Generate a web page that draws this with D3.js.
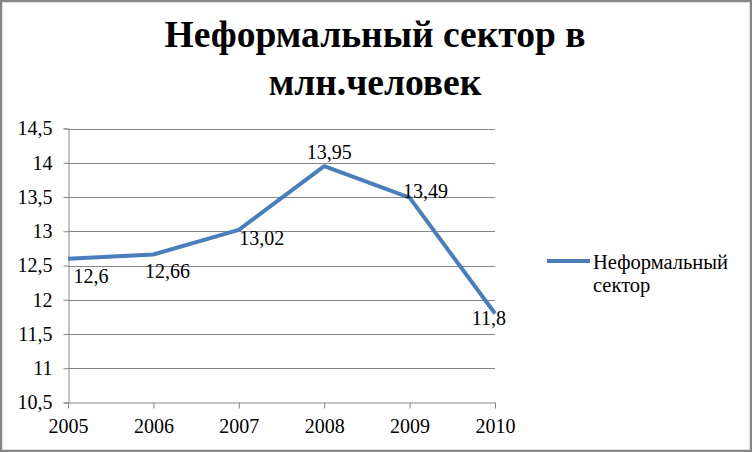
<!DOCTYPE html>
<html>
<head>
<meta charset="utf-8">
<script src="https://cdn.jsdelivr.net/npm/d3@7"></script>
<style>
  html, body { margin: 0; padding: 0; background: #fff; }
  svg { display: block; }
</style>
</head>
<body>
<div id="chart"></div>
<script>
var years = ["2005", "2006", "2007", "2008", "2009", "2010"];
var values = [12.6, 12.66, 13.02, 13.95, 13.49, 11.8];
var yTicks = [10.5, 11, 11.5, 12, 12.5, 13, 13.5, 14, 14.5];
var titleLines = ["Неформальный сектор в", "млн.человек"];
var seriesName = ["Неформальный", "сектор"];

// hand-placed label nudges (px from point, to baseline), like the original
var labelNudge = [[23, 24], [14, 23], [23, 15], [5, -7], [16, 0], [-6, 12]];

(function () {
  var W = 752, H = 452;
  var plotLeft = 68, plotRight = 495, plotTop = 128.5, plotBottom = 402.5;
  var lineColor = "#4a7ebb", gridColor = "#868686";
  var serif = "'Liberation Serif', 'Times New Roman', serif";

  var fmt = function (v) { return String(v).replace(".", ","); };

  var svg = d3.select("#chart").append("svg")
    .attr("width", W)
    .attr("height", H);

  svg.append("rect")
    .attr("x", 1).attr("y", 1)
    .attr("width", W - 2).attr("height", H - 2)
    .attr("fill", "#fff")
    .attr("stroke", gridColor)
    .attr("stroke-width", 2.5);

  var title = svg.append("text")
    .style("font-family", serif)
    .attr("text-anchor", "middle")
    .attr("font-size", 37.5)
    .attr("font-weight", "bold")
    .attr("fill", "#000");
  titleLines.forEach(function (line, i) {
    title.append("tspan").attr("x", 375).attr("y", 47 + i * 48).text(line);
  });

  var x = d3.scalePoint().domain(years).range([plotLeft, plotRight]);
  var y = d3.scaleLinear().domain([10.5, 14.5]).range([plotBottom, plotTop]);

  // horizontal gridlines
  svg.append("g")
    .selectAll("line")
    .data(yTicks.slice(1))
    .join("line")
    .attr("x1", plotLeft).attr("x2", plotRight)
    .attr("y1", function (d) { return Math.round(y(d)) + 0.5; })
    .attr("y2", function (d) { return Math.round(y(d)) + 0.5; })
    .attr("stroke", gridColor)
    .attr("stroke-width", 1);

  var yAxis = svg.append("g")
    .attr("transform", "translate(" + (plotLeft + 0.5) + ",0)")
    .call(d3.axisLeft(y).tickValues(yTicks).tickSize(5).tickPadding(11).tickFormat(fmt));

  var xAxis = svg.append("g")
    .attr("transform", "translate(0," + plotBottom + ")")
    .call(d3.axisBottom(x).tickSize(6).tickPadding(10).tickSizeOuter(0));

  [yAxis, xAxis].forEach(function (g) {
    g.attr("font-size", 20);
    g.select(".domain").attr("stroke", gridColor);
    g.selectAll(".tick line").attr("stroke", gridColor);
    g.selectAll(".tick text").style("font-family", serif).attr("fill", "#000");
  });

  var line = d3.line()
    .x(function (d, i) { return x(years[i]); })
    .y(function (d) { return y(d); });

  svg.append("path")
    .datum(values)
    .attr("d", line)
    .attr("fill", "none")
    .attr("stroke", lineColor)
    .attr("stroke-width", 4)
    .attr("stroke-linejoin", "round");

  svg.append("g")
    .selectAll("text")
    .data(values)
    .join("text")
    .style("font-family", serif)
    .attr("x", function (d, i) { return x(years[i]) + labelNudge[i][0]; })
    .attr("y", function (d, i) { return y(d) + labelNudge[i][1]; })
    .attr("text-anchor", "middle")
    .attr("font-size", 20)
    .attr("fill", "#000")
    .text(fmt);

  // legend
  var legend = svg.append("g");
  legend.append("line")
    .attr("x1", 547).attr("x2", 590)
    .attr("y1", 261).attr("y2", 261)
    .attr("stroke", lineColor)
    .attr("stroke-width", 4);
  var legendText = legend.append("text")
    .style("font-family", serif)
    .attr("font-size", 20.5)
    .attr("fill", "#000");
  seriesName.forEach(function (part, i) {
    legendText.append("tspan").attr("x", 593).attr("y", 269 + i * 23).text(part);
  });
})();
</script>
</body>
</html>
